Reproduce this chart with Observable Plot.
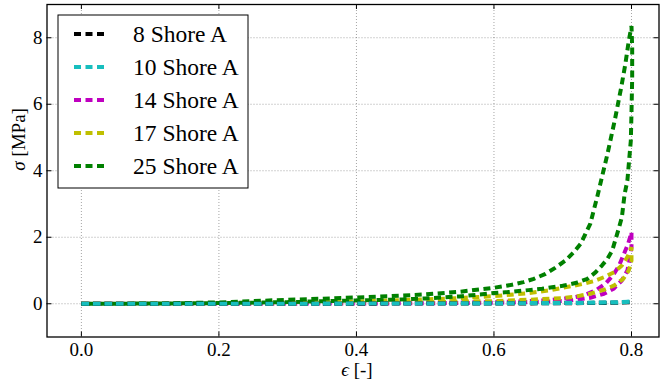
<!DOCTYPE html>
<html>
<head>
<meta charset="utf-8">
<script src="https://cdn.jsdelivr.net/npm/d3@7"></script>
<script src="https://cdn.jsdelivr.net/npm/@observablehq/plot@0.6"></script>
<style>
  html, body { margin: 0; padding: 0; background: #fff; }
  #chart { width: 660px; height: 385px; }
  #chart svg text { font-family: 'Liberation Serif', 'DejaVu Serif', serif !important; }
</style>
</head>
<body>
<div id="chart"></div>
<script>
// ---- data ----
const seriesNames = ["8 Shore A", "10 Shore A", "14 Shore A", "17 Shore A", "25 Shore A"];
const seriesColors = ["#000000", "#17bebe", "#bf00bf", "#bfbf00", "#008000"];
const drawOrder = ["14 Shore A", "17 Shore A", "25 Shore A", "8 Shore A", "10 Shore A"];

const xTicks = [0.0, 0.2, 0.4, 0.6, 0.8];
const yTicks = [0, 2, 4, 6, 8];

// 8 Shore A
const s8LoadEps = [0, 0.1, 0.2, 0.3, 0.4, 0.5, 0.6, 0.65, 0.7, 0.75, 0.78, 0.8];
const s8LoadSig = [0, 0.0005, 0.001, 0.002, 0.004, 0.007, 0.011, 0.015, 0.02, 0.028, 0.035, 0.045];
const s8UnloadEps = [0.8, 0.78, 0.75, 0.7, 0.65, 0.6, 0.5, 0.4, 0.3, 0.2, 0.1, 0];
const s8UnloadSig = [0.045, 0.03, 0.022, 0.015, 0.011, 0.008, 0.005, 0.003, 0.0015, 0.0007, 0.0002, 0];

// 10 Shore A
const s10LoadEps = [0, 0.1, 0.2, 0.3, 0.4, 0.5, 0.6, 0.65, 0.7, 0.75, 0.78, 0.8];
const s10LoadSig = [0, 0.0007, 0.0015, 0.003, 0.005, 0.009, 0.014, 0.019, 0.026, 0.036, 0.045, 0.06];
const s10UnloadEps = [0.8, 0.78, 0.75, 0.7, 0.65, 0.6, 0.5, 0.4, 0.3, 0.2, 0.1, 0];
const s10UnloadSig = [0.06, 0.04, 0.029, 0.02, 0.014, 0.01, 0.006, 0.004, 0.002, 0.001, 0.0003, 0];

// 14 Shore A
const s14LoadEps = [0, 0.1, 0.2, 0.3, 0.4, 0.5, 0.6, 0.65, 0.68, 0.71, 0.73, 0.748, 0.762, 0.773, 0.782, 0.789, 0.795, 0.8];
const s14LoadSig = [0, 0.001, 0.003, 0.007, 0.015, 0.03, 0.05, 0.08, 0.11, 0.17, 0.25, 0.4, 0.6, 0.85, 1.15, 1.5, 1.8, 2.15];
const s14UnloadEps = [0.8, 0.8, 0.797, 0.794, 0.786, 0.774, 0.76, 0.74, 0.72, 0.7, 0.65, 0.6, 0.5, 0.4, 0.3, 0.2, 0.1, 0];
const s14UnloadSig = [2.15, 1.7, 1.3, 1.0, 0.7, 0.45, 0.3, 0.18, 0.12, 0.08, 0.05, 0.03, 0.015, 0.007, 0.003, 0.001, 0.0003, 0];

// 17 Shore A
const s17LoadEps = [0, 0.1, 0.2, 0.3, 0.4, 0.5, 0.55, 0.6, 0.65, 0.68, 0.7, 0.73, 0.745, 0.76, 0.775, 0.786, 0.794, 0.8];
const s17LoadSig = [0, 0.005, 0.02, 0.04, 0.07, 0.13, 0.17, 0.23, 0.32, 0.4, 0.48, 0.6, 0.68, 0.8, 0.95, 1.15, 1.4, 1.7];
const s17UnloadEps = [0.8, 0.8, 0.796, 0.788, 0.775, 0.76, 0.74, 0.72, 0.7, 0.65, 0.6, 0.5, 0.4, 0.3, 0.2, 0.1, 0];
const s17UnloadSig = [1.7, 1.3, 1.0, 0.75, 0.55, 0.42, 0.3, 0.22, 0.17, 0.12, 0.08, 0.04, 0.02, 0.01, 0.004, 0.001, 0];

// 25 Shore A
const s25LoadEps = [0, 0.1, 0.2, 0.25, 0.3, 0.35, 0.4, 0.45, 0.5, 0.55, 0.6, 0.626, 0.643, 0.658, 0.675, 0.689, 0.704, 0.716, 0.726, 0.733, 0.74, 0.75, 0.765, 0.776, 0.785, 0.791, 0.796, 0.8];
const s25LoadSig = [0, 0.005, 0.04, 0.08, 0.12, 0.15, 0.19, 0.23, 0.28, 0.36, 0.48, 0.57, 0.65, 0.75, 0.9, 1.08, 1.3, 1.55, 1.8, 2.1, 2.4, 3.2, 4.5, 5.55, 6.5, 7.2, 7.9, 8.35];
const s25UnloadEps = [0.8, 0.801, 0.801, 0.8, 0.799, 0.794, 0.79, 0.786, 0.782, 0.777, 0.772, 0.765, 0.757, 0.748, 0.736, 0.72, 0.7, 0.67, 0.65, 0.62, 0.6, 0.55, 0.5, 0.45, 0.4, 0.3, 0.2, 0.1, 0];
const s25UnloadSig = [8.35, 7.7, 6.8, 5.75, 4.9, 3.7, 3.3, 2.6, 2.3, 1.95, 1.6, 1.35, 1.15, 0.95, 0.75, 0.63, 0.54, 0.45, 0.41, 0.35, 0.32, 0.22, 0.16, 0.12, 0.1, 0.05, 0.02, 0.005, 0];

// ---- table ----
const curves = {
  "8 Shore A": [s8LoadEps, s8LoadSig, s8UnloadEps, s8UnloadSig],
  "10 Shore A": [s10LoadEps, s10LoadSig, s10UnloadEps, s10UnloadSig],
  "14 Shore A": [s14LoadEps, s14LoadSig, s14UnloadEps, s14UnloadSig],
  "17 Shore A": [s17LoadEps, s17LoadSig, s17UnloadEps, s17UnloadSig],
  "25 Shore A": [s25LoadEps, s25LoadSig, s25UnloadEps, s25UnloadSig]
};
const rows = [];
for (const name of drawOrder) {
  const [le, ls, ue, us] = curves[name];
  le.forEach((e, i) => rows.push({series: name, eps: e, sig: ls[i]}));
  ue.forEach((e, i) => rows.push({series: name, eps: e, sig: us[i]}));
}

const W = 660, H = 385;
const mL = 46.5, mR = 1.5, mT = 4, mB = 48.5;
const innerW = W - mL - mR, innerH = H - mT - mB;
const tickLen = 5;
const FONT = "'Liberation Serif', 'DejaVu Serif', serif";
const dash = "7,4.5";

const gridStyle = {stroke: "#000", strokeOpacity: 0.45, strokeWidth: 0.8, strokeDasharray: "1,2"};

const svg = Plot.plot({
  width: W, height: H,
  marginLeft: mL, marginRight: mR, marginTop: mT, marginBottom: mB,
  style: {fontFamily: FONT, fontSize: "19px", background: "#fff", overflow: "visible"},
  x: {domain: [-0.05, 0.84]},
  y: {domain: [-1, 9]},
  color: {domain: seriesNames, range: seriesColors},
  marks: [
    Plot.gridX(xTicks, {...gridStyle}),
    Plot.gridY(yTicks, {...gridStyle}),
    Plot.line(rows, {x: "eps", y: "sig", z: "series", stroke: "series",
      strokeWidth: 4, strokeDasharray: dash, strokeLinecap: "butt", strokeLinejoin: "miter"}),
    // inward ticks
    Plot.ruleX(xTicks, {x: d => d, insetTop: innerH - tickLen, stroke: "#000", strokeWidth: 1}),
    Plot.ruleX(xTicks, {x: d => d, insetBottom: innerH - tickLen, stroke: "#000", strokeWidth: 1}),
    Plot.ruleY(yTicks, {y: d => d, insetRight: innerW - tickLen, stroke: "#000", strokeWidth: 1}),
    Plot.ruleY(yTicks, {y: d => d, insetLeft: innerW - tickLen, stroke: "#000", strokeWidth: 1}),
    Plot.axisX(xTicks, {tickSize: 0, tickPadding: 5, fontSize: 19, label: null, tickFormat: d3.format(".1f")}),
    Plot.axisY(yTicks, {tickSize: 0, tickPadding: 4.5, fontSize: 19, label: null, tickFormat: d3.format("d")}),
    Plot.frame({stroke: "#000", strokeWidth: 1.3}),
    Plot.text(["ϵ [-]"], {frameAnchor: "bottom", dy: 39, dx: 4, fontSize: 19, fill: "#000"}),
    Plot.text(["σ [MPa]"], {frameAnchor: "left", dx: -28, rotate: -90, fontSize: 19, fill: "#000"})
  ]
});

// italic math symbols in axis labels
d3.select(svg).selectAll("text").each(function() {
  const t = this.textContent;
  if (t === "ϵ [-]" || t === "σ [MPa]") {
    const sym = t.charAt(0), rest = t.slice(1);
    const sel = d3.select(this);
    sel.text(null);
    sel.append("tspan").attr("font-style", "italic").text(sym);
    sel.append("tspan").text(rest);
  }
});

// legend
const lg = d3.select(svg).append("g").attr("font-family", FONT);
lg.append("rect").attr("x", 58).attr("y", 15).attr("width", 190).attr("height", 173)
  .attr("fill", "#fff").attr("stroke", "#000").attr("stroke-width", 1);
seriesNames.forEach((name, i) => {
  const cy = 34 + i * 33;
  lg.append("line").attr("x1", 74).attr("x2", 104).attr("y1", cy).attr("y2", cy)
    .attr("stroke", seriesColors[i]).attr("stroke-width", 4)
    .attr("stroke-dasharray", dash).attr("stroke-linecap", "butt");
  lg.append("text").attr("x", 133).attr("y", cy).attr("dy", "0.35em")
    .attr("text-anchor", "start")
    .attr("font-size", 23.5).attr("fill", "#000").text(name);
});

d3.select(svg).selectAll("text").style("font-family", FONT);

document.getElementById("chart").appendChild(svg);
</script>
</body>
</html>
